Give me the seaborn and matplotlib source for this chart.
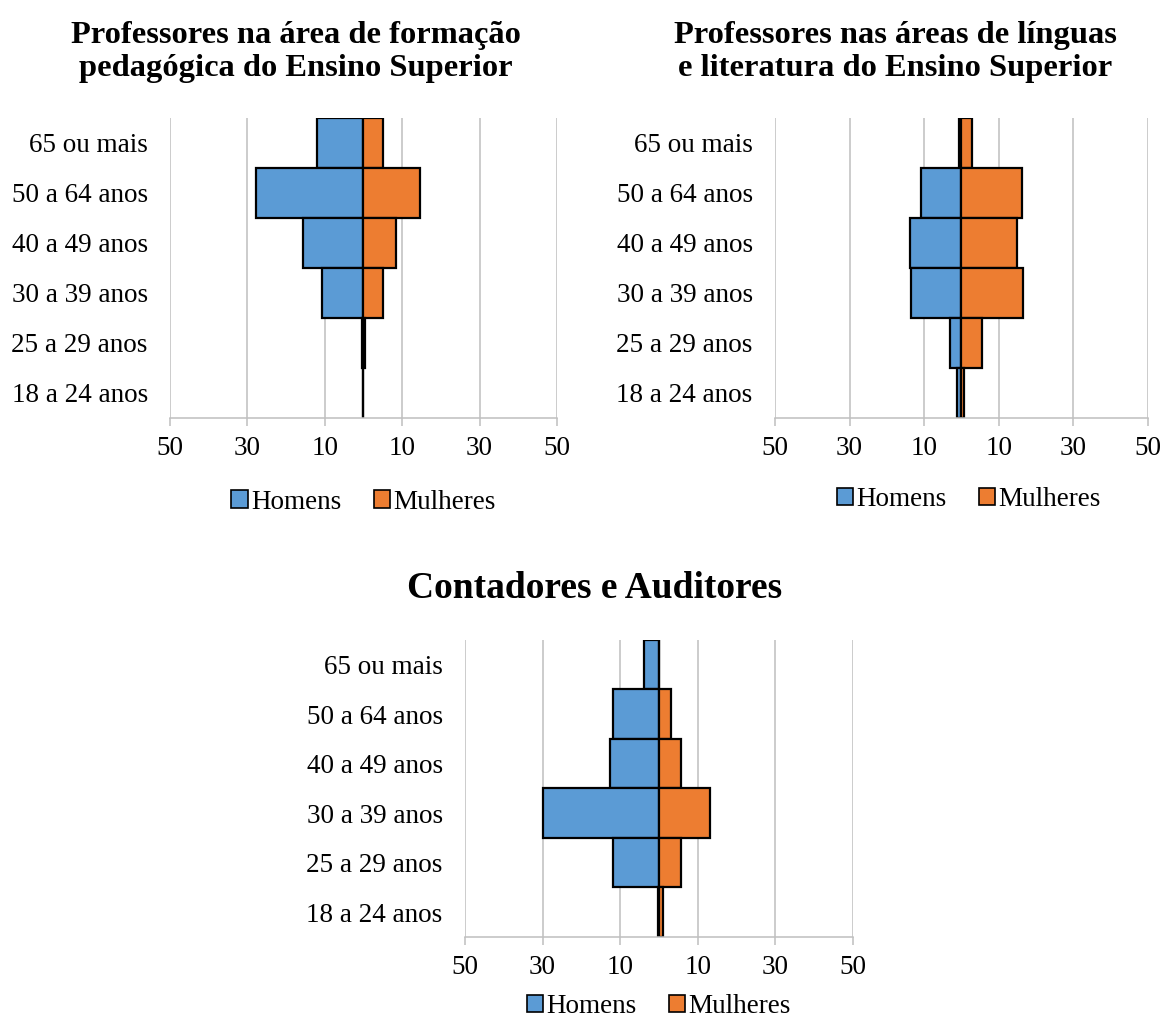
import matplotlib
matplotlib.use('Agg')
import matplotlib.pyplot as plt
from matplotlib.patches import Patch
import seaborn as sns
import pandas as pd

sns.set_theme(style='white')
plt.rcParams['font.family'] = ['Liberation Serif', 'DejaVu Serif']
plt.rcParams['text.color'] = 'black'

# ── Data (percent of workers per age group) ──────────────
age_groups = ['65 ou mais', '50 a 64 anos', '40 a 49 anos',
              '30 a 39 anos', '25 a 29 anos', '18 a 24 anos']

pedag_homens   = [12.0, 27.8, 15.5, 10.8, 0.3, 0.0]
pedag_mulheres = [5.1, 14.7, 8.4, 5.1, 0.3, 0.0]

letras_homens   = [0.6, 10.9, 13.8, 13.5, 3.2, 1.2]
letras_mulheres = [2.9, 16.1, 14.8, 16.5, 5.4, 0.6]

contad_homens   = [3.9, 11.9, 12.7, 30.0, 11.9, 0.3]
contad_mulheres = [0.0, 3.2, 5.7, 13.2, 5.7, 1.1]

xticks = [-50, -30, -10, 10, 30, 50]
xtick_labels = ['50', '30', '10', '10', '30', '50']

BLUE = '#5B9BD5'
ORANGE = '#ED7D31'
GRID = '#BFBFBF'

fig = plt.figure(figsize=(11.65, 10.23), dpi=100)

axes_pos = [
    [0.1459, 0.5914, 0.3322, 0.2933],
    [0.6652, 0.5914, 0.3202, 0.2933],
    [0.3991, 0.0841, 0.3330, 0.2903],
]
series = [
    (pedag_homens, pedag_mulheres),
    (letras_homens, letras_mulheres),
    (contad_homens, contad_mulheres),
]
legend_anchor = [(0.5, -0.28), (0.52, -0.273), (0.5, -0.235)]

for pos, (hom, mul), anchor in zip(axes_pos, series, legend_anchor):
    ax = fig.add_axes(pos)
    df = pd.DataFrame({'idade': age_groups,
                       'Homens': [-v for v in hom],
                       'Mulheres': mul})
    sns.barplot(data=df, x='Homens', y='idade', color=BLUE, saturation=1,
                edgecolor='black', linewidth=1.6, width=1.0, ax=ax)
    sns.barplot(data=df, x='Mulheres', y='idade', color=ORANGE, saturation=1,
                edgecolor='black', linewidth=1.6, width=1.0, ax=ax)

    ax.set_xlim(-50, 50)
    ax.set_ylim(5.5, -0.5)
    ax.set_xticks(xticks)
    ax.set_xticklabels(xtick_labels)
    ax.set_xlabel('')
    ax.set_ylabel('')
    ax.xaxis.grid(True, color=GRID, linewidth=1.1)
    ax.set_axisbelow(True)
    for s in ['top', 'right', 'left']:
        ax.spines[s].set_visible(False)
    ax.spines['bottom'].set_color(GRID)
    ax.spines['bottom'].set_linewidth(1.1)
    ax.tick_params(axis='x', bottom=True, length=6, width=1.1, color=GRID,
                   labelsize=19.5, pad=7, labelcolor='black')
    ax.tick_params(axis='y', left=False, length=0, labelsize=19.5, pad=16,
                   labelcolor='black')

    handles = [Patch(facecolor=BLUE, edgecolor='black', linewidth=1.2, label='Homens'),
               Patch(facecolor=ORANGE, edgecolor='black', linewidth=1.2, label='Mulheres')]
    ax.legend(handles=handles, loc='center', bbox_to_anchor=anchor, ncol=2,
              frameon=False, fontsize=19.5, handlelength=0.6, handleheight=0.6,
              handletextpad=0.12, columnspacing=1.2, borderaxespad=0,
              labelcolor='black')

fig.text(296 / 1165, 1 - 52 / 1023,
         'Professores na área de formação\npedagógica do Ensino Superior',
         ha='center', va='center', fontsize=23.4, fontweight='bold', linespacing=1.15)
fig.text(895 / 1165, 1 - 52 / 1023,
         'Professores nas áreas de línguas\ne literatura do Ensino Superior',
         ha='center', va='center', fontsize=23.4, fontweight='bold', linespacing=1.15)
fig.text(595 / 1165, 1 - 588 / 1023, 'Contadores e Auditores',
         ha='center', va='center', fontsize=27, fontweight='bold')

plt.savefig('out.png', dpi=100)
